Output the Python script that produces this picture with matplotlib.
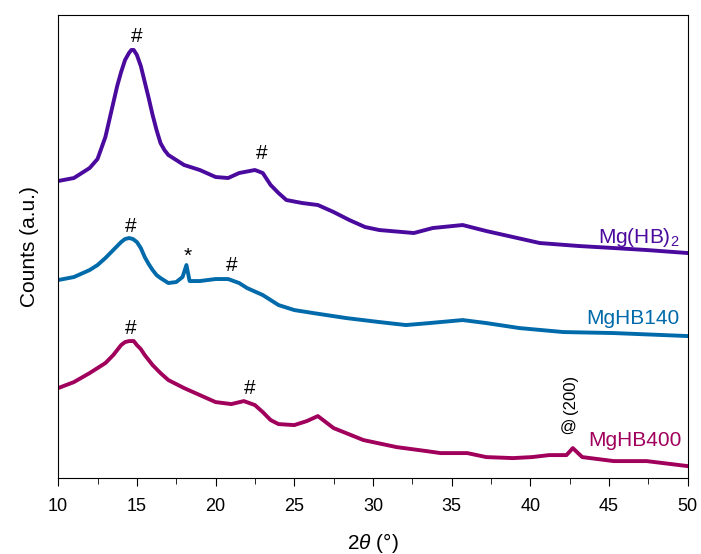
import matplotlib.pyplot as plt
from matplotlib.ticker import MultipleLocator

plt.rcParams["font.family"] = ["Liberation Sans", "DejaVu Sans"]
plt.rcParams["mathtext.fontset"] = "custom"
plt.rcParams["mathtext.rm"] = "Liberation Sans"
plt.rcParams["mathtext.it"] = "Liberation Sans:italic"

# 2theta (deg) and offset counts (a.u.)
mghb2_x = [10.0, 11.0, 12.0, 12.5, 13.0, 13.25, 13.5, 13.75, 14.0, 14.25, 14.5, 14.65,
           14.8, 15.0, 15.25, 15.5, 15.75, 16.0, 16.25, 16.5, 16.75, 17.0, 17.5, 18.0,
           19.0, 20.0, 20.8, 21.5, 22.5, 23.0, 23.5, 24.0, 24.5, 25.5, 26.5, 27.5,
           28.5, 29.5, 30.4, 32.6, 33.8, 35.7, 37.2, 38.9, 40.6, 43.1, 45.3, 47.4,
           50.0]
mghb2_y = [297, 300, 310, 319, 341, 358, 375, 392, 406, 418, 425, 428,
           428, 423, 412, 396, 380, 363, 348, 335, 328, 323, 318, 313,
           308, 301, 300, 305, 308, 305, 293, 285, 278, 275, 273, 266,
           258, 251, 248, 245, 250, 253, 247, 241, 235, 232, 230, 228,
           225]

mghb140_x = [10.0, 11.0, 12.0, 12.5, 13.0, 13.5, 13.75, 14.0, 14.25, 14.5, 14.75, 15.0,
             15.25, 15.5, 15.75, 16.0, 16.25, 16.5, 17.0, 17.5, 17.9, 18.15, 18.35, 19.0,
             20.0, 20.8, 21.5, 22.0, 23.0, 24.0, 25.0, 26.2, 28.3, 30.4, 32.1, 33.6,
             35.7, 37.2, 39.3, 42.1, 45.3, 50.0]
mghb140_y = [198, 201, 208, 213, 220, 228, 232, 236, 239, 240, 239, 236,
             230, 221, 214, 208, 203, 200, 195, 196, 201, 213, 197, 197,
             199, 199, 195, 190, 183, 173, 168, 165, 160, 156, 153, 155,
             158, 155, 150, 146, 145, 142]

mghb400_x = [10.0, 11.0, 12.0, 13.0, 13.5, 14.0, 14.25, 14.5, 14.8, 15.0, 15.25, 15.5,
             16.0, 16.5, 17.0, 17.5, 18.0, 19.0, 20.0, 21.0, 21.8, 22.5, 23.0, 23.5,
             24.0, 25.0, 25.8, 26.5, 27.5, 29.4, 31.5, 33.4, 34.3, 36.0, 37.2, 38.9,
             40.1, 41.2, 42.3, 42.7, 43.3, 45.3, 47.4, 50.0]
mghb400_y = [90, 96, 105, 115, 123, 133, 136, 137, 137, 133, 129, 123,
             113, 105, 98, 94, 90, 83, 76, 74, 77, 73, 66, 58,
             54, 53, 57, 62, 50, 38, 31, 27, 25, 25, 21, 20,
             21, 23, 23, 30, 21, 17, 17, 12]

colors = ["#4b0a9e", "#006aaa", "#a0005c"]

fig = plt.figure(figsize=(7.01, 5.54), dpi=100)
ax = fig.add_axes([0.083, 0.137, 0.898, 0.836])

ax.plot(mghb2_x, mghb2_y, color=colors[0], lw=2.8)
ax.plot(mghb140_x, mghb140_y, color=colors[1], lw=2.8)
ax.plot(mghb400_x, mghb400_y, color=colors[2], lw=2.8)

# peak markers
for x, y, s in [(15.0, 441, "#"), (22.95, 325, "#"), (14.6, 252, "#"),
                (18.2, 222, "*"), (21.05, 213, "#"), (14.6, 150, "#"),
                (22.2, 90, "#")]:
    ax.text(x, y, s, ha="center", va="center", fontsize=15)
ax.text(42.4, 51, "@", ha="center", va="center", fontsize=12)
ax.text(42.55, 64, "(200)", rotation=90, ha="center", va="bottom", fontsize=12)

ax.text(49.5, 241, r"Mg(HB)$_2$", color=colors[0], ha="right", va="center", fontsize=15)
ax.text(49.5, 160, "MgHB140", color=colors[1], ha="right", va="center", fontsize=15)
ax.text(49.6, 38, "MgHB400", color=colors[2], ha="right", va="center", fontsize=15)

ax.set_xlim(10, 50)
ax.set_ylim(0, 463)
ax.xaxis.set_major_locator(MultipleLocator(5))
ax.xaxis.set_minor_locator(MultipleLocator(2.5))
ax.tick_params(axis="x", which="major", direction="out", length=6, labelsize=13, pad=8)
ax.tick_params(axis="x", which="minor", direction="out", length=4)
ax.set_yticks([])
ax.set_xlabel(r"$\mathit{2\theta}$ (°)", fontsize=15, labelpad=12)
ax.set_ylabel("Counts (a.u.)", fontsize=15, labelpad=14)

fig.savefig("out.png", dpi=100)
